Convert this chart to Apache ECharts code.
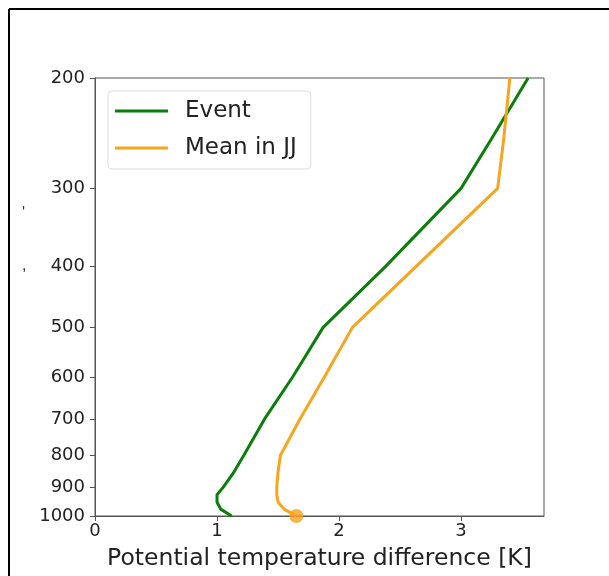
<!DOCTYPE html>
<html>
<head>
<meta charset="utf-8">
<script src="https://cdn.jsdelivr.net/npm/echarts@6/dist/echarts.min.js"></script>
<style>
  html, body { margin: 0; padding: 0; background: #fff; }
  #chart { width: 609px; height: 576px; }
</style>
</head>
<body>
<div id="chart"></div>
<script>
// pressure levels (hPa) and potential temperature difference (K)
const levels = [1000, 975, 950, 925, 900, 850, 800, 700, 600, 500, 400, 300, 250, 200];
const eventValues = [1.12, 1.03, 1.0, 1.0, 1.05, 1.14, 1.22, 1.39, 1.62, 1.87, 2.38, 3.0, 3.25, 3.55];
const meanJJValues = [1.65, 1.55, 1.5, 1.49, 1.49, 1.5, 1.52, 1.68, 1.88, 2.11, 2.63, 3.3, 3.35, 3.4];
const yTicks = [200, 300, 400, 500, 600, 700, 800, 900, 1000];
const xTicks = [0, 1, 2, 3];

const pairs = (vals) => vals.map((v, i) => [v, levels[i]]);

const chart = echarts.init(document.getElementById('chart'), null, { renderer: 'canvas' });

const option = {
    animation: false,
    backgroundColor: '#fff',
    textStyle: { fontFamily: 'DejaVu Sans' },
    grid: {
        left: 95,
        right: 65,
        top: 78,
        bottom: 60,
        containLabel: false,
        outerBoundsMode: 'none',
        show: true,
        borderColor: '#555',
        borderWidth: 1
    },
    legend: {
        left: 108,
        top: 91,
        orient: 'vertical',
        itemWidth: 53,
        itemHeight: 3,
        itemGap: 13,
        padding: [8, 14, 9, 7],
        borderColor: '#ddd',
        borderWidth: 1,
        borderRadius: 4,
        backgroundColor: '#fff',
        icon: 'rect',
        textStyle: { fontSize: 23, lineHeight: 24, color: '#222', padding: [0, 0, 0, 12] },
        data: ['Event', 'Mean in JJ']
    },
    xAxis: {
        type: 'value',
        min: 0,
        max: 3.68,
        interval: 1,
        name: 'Potential temperature difference [K]',
        nameLocation: 'middle',
        nameGap: 31,
        nameTextStyle: { fontSize: 23.5, color: '#222' },
        splitLine: { show: false },
        axisLine: { lineStyle: { color: '#555' } },
        axisTick: { customValues: xTicks, length: 5, lineStyle: { color: '#555' } },
        axisLabel: { customValues: xTicks, fontSize: 18, color: '#222', margin: 6 }
    },
    yAxis: {
        type: 'log',
        logBase: 10,
        min: 200,
        max: 1000,
        inverse: true,
        splitLine: { show: false },
        minorTick: { show: false },
        axisLine: { show: true, lineStyle: { color: '#555' } },
        axisTick: { show: true, customValues: yTicks, length: 5, lineStyle: { color: '#555' } },
        axisLabel: {
            customValues: yTicks,
            fontSize: 18,
            color: '#222',
            margin: 10,
            formatter: (v) => String(Math.round(v))
        }
    },
    series: [
        {
            name: 'Event',
            type: 'line',
            data: pairs(eventValues),
            showSymbol: false,
            symbol: 'none',
            color: '#0a7d0a',
            lineStyle: { width: 3, color: '#0a7d0a' }
        },
        {
            name: 'Mean in JJ',
            type: 'line',
            data: pairs(meanJJValues),
            showSymbol: false,
            symbol: 'none',
            color: '#f7a51e',
            lineStyle: { width: 3, color: '#f7a51e' }
        },
        {
            name: 'surface',
            type: 'scatter',
            data: [[meanJJValues[0], levels[0]]],
            symbolSize: 14,
            itemStyle: { color: '#f7a01e' },
            z: 5
        }
    ],
    graphic: [
        { type: 'line', shape: { x1: 9, y1: 9, x2: 9, y2: 576 }, style: { stroke: '#000', lineWidth: 2 } },
        { type: 'line', shape: { x1: 9, y1: 9, x2: 609, y2: 9 }, style: { stroke: '#000', lineWidth: 2 } },
        { type: 'text', left: 22, top: 206, style: { text: '\'', fontSize: 16, fill: '#333' } },
        { type: 'text', left: 22, top: 258, style: { text: ',', fontSize: 16, fill: '#333' } }
    ]
};

chart.setOption(option);
</script>
</body>
</html>
